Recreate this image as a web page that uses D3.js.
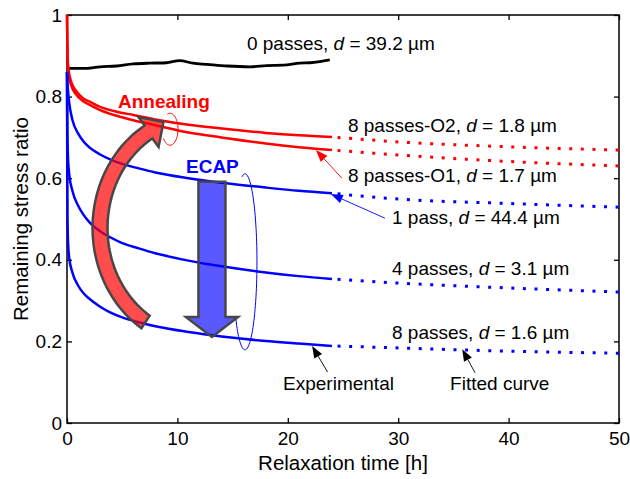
<!DOCTYPE html>
<html>
<head>
<meta charset="utf-8">
<script src="https://cdn.jsdelivr.net/npm/d3@7"></script>
<style>
  body { margin: 0; background: #fff; }
  text { font-family: "Liberation Sans", Arial, Helvetica, sans-serif; }
</style>
</head>
<body>
<svg id="chart" width="630" height="479"></svg>
<script>
// measured curves, [time h, remaining stress ratio]
const exp0 = [[0.02,0.869],[1.5,0.869],[3,0.873],[4.5,0.875],[6,0.880],[7.5,0.882],[9,0.883],[10.2,0.888],
  [11.4,0.882],[12.7,0.879],[14.5,0.875],[16.6,0.873],[18.1,0.876],[19.6,0.877],[21.1,0.882],[22,0.883],[22.9,0.886],[23.8,0.890]];
const expO2 = [[0,1],[0.05,0.90],[0.15,0.865],[0.4,0.835],[0.8,0.815],[1.5,0.795],[2.1,0.787],[3,0.775],[4.5,0.763],
  [6,0.755],[8,0.744],[11,0.731],[14,0.722],[18,0.711],[21,0.705],[24,0.701]];
const expO1 = [[0,1],[0.05,0.89],[0.15,0.855],[0.4,0.826],[0.8,0.806],[1.5,0.788],[2.1,0.779],[3,0.767],[4.5,0.753],
  [6,0.742],[8,0.730],[11,0.712],[14,0.700],[18,0.685],[21,0.676],[24,0.669]];
const exp1 = [[0,0.86],[0.05,0.83],[0.1,0.812],[0.2,0.785],[0.5,0.742],[1,0.71],[1.5,0.69],[2,0.676],[3,0.658],
  [4,0.645],[5,0.635],[6.5,0.624],[8,0.614],[11,0.600],[14,0.589],[18,0.577],[21,0.569],[24,0.563]];
const exp4 = [[0,0.86],[0.03,0.72],[0.1,0.645],[0.2,0.61],[0.5,0.568],[1,0.533],[1.5,0.51],[2,0.493],[3,0.470],
  [4,0.454],[5,0.441],[6.5,0.428],[8,0.416],[11,0.398],[14,0.384],[18,0.369],[21,0.360],[24,0.353]];
const exp8 = [[0,0.86],[0.02,0.66],[0.05,0.50],[0.1,0.44],[0.2,0.405],[0.5,0.368],[1,0.337],[1.5,0.318],[2,0.305],
  [3,0.285],[4,0.27],[5,0.259],[6.5,0.247],[8,0.237],[11,0.223],[14,0.212],[18,0.201],[21,0.195],[24,0.189]];

// fitted extrapolations
const fitO2 = [[24,0.701],[30,0.689],[40,0.677],[50,0.669]];
const fitO1 = [[24,0.669],[30,0.657],[40,0.641],[50,0.630]];
const fit1 = [[24,0.563],[30,0.549],[40,0.538],[50,0.529]];
const fit4 = [[24,0.353],[30,0.343],[40,0.331],[50,0.321]];
const fit8 = [[24,0.189],[30,0.184],[40,0.176],[50,0.171]];

const labelNames = ["0 passes", "8 passes-O2", "8 passes-O1", "1 pass", "4 passes", "8 passes"];
const grainSizes = ["39.2", "1.8", "1.7", "44.4", "3.1", "1.6"];

const xTicks = [0, 10, 20, 30, 40, 50];
const yTicks = [0, 0.2, 0.4, 0.6, 0.8, 1];

const svg = d3.select("#chart");
const x = d3.scaleLinear().domain([0, 50]).range([67, 619]);
const y = d3.scaleLinear().domain([0, 1]).range([423, 15]);

// axes, ticks pointing inwards on every side
svg.append("g").attr("transform", "translate(0,423)")
  .call(d3.axisBottom(x).tickValues(xTicks).tickSizeInner(-5).tickSizeOuter(0).tickPadding(9));
svg.append("g").attr("transform", "translate(0,15)")
  .call(d3.axisTop(x).tickValues(xTicks).tickSizeInner(-5).tickSizeOuter(0).tickFormat(""));
svg.append("g").attr("transform", "translate(67,0)")
  .call(d3.axisLeft(y).tickValues(yTicks).tickSizeInner(-5).tickSizeOuter(0).tickPadding(5)
    .tickFormat(d => (d === 0 || d === 1) ? d : d.toFixed(1)));
svg.append("g").attr("transform", "translate(619,0)")
  .call(d3.axisRight(y).tickValues(yTicks).tickSizeInner(-5).tickSizeOuter(0).tickFormat(""));
svg.selectAll(".domain").remove();
svg.selectAll(".tick line").attr("stroke", "#000").attr("stroke-width", 1.3);
svg.selectAll(".tick text").attr("font-size", 19).attr("fill", "#000")
  .style("font-family", "'Liberation Sans', Arial, sans-serif");
svg.append("rect").attr("x", 67).attr("y", 15).attr("width", 552).attr("height", 408)
  .attr("fill", "none").attr("stroke", "#000").attr("stroke-width", 1.5);

svg.append("text").attr("x", 343).attr("y", 470).attr("text-anchor", "middle")
  .attr("font-size", 20.5).text("Relaxation time [h]");
svg.append("text").attr("transform", "translate(28,219) rotate(-90)").attr("text-anchor", "middle")
  .attr("font-size", 20.5).text("Remaining stress ratio");

// curves
const line = d3.line().x(d => x(d[0])).y(d => y(d[1])).curve(d3.curveMonotoneX);
const curves = svg.append("g").attr("fill", "none");
[[exp0, "#000", 2.8], [expO2, "#ff0000", 2.5], [expO1, "#ff0000", 2.5],
 [exp1, "#0000ff", 2.5], [exp4, "#0000ff", 2.5], [exp8, "#0000ff", 2.5]].forEach(c => {
  curves.append("path").attr("d", line(c[0])).attr("stroke", c[1]).attr("stroke-width", c[2])
    .attr("stroke-linejoin", "round");
});
[[fitO2, "#ff0000"], [fitO1, "#ff0000"], [fit1, "#0000ff"], [fit4, "#0000ff"], [fit8, "#0000ff"]].forEach(c => {
  curves.append("path").attr("d", line(c[0])).attr("stroke", c[1]).attr("stroke-width", 3)
    .attr("stroke-dasharray", "3,8.6").attr("stroke-dashoffset", 6);
});

// helper for sampling an ellipse arc
function ellipsePts(cx, cy, rx, ry, a0, a1, n) {
  return d3.range(n + 1).map(i => {
    const a = (a0 + (a1 - a0) * i / n) * Math.PI / 180;
    return [cx + rx * Math.cos(a), cy + ry * Math.sin(a)];
  });
}
const plain = d3.line();

// small loops round groups of curves
svg.append("path").attr("d", plain(ellipsePts(x(9.33), y(0.72), 8, 16, -110, 145, 60)))
  .attr("fill", "none").attr("stroke", "#ff0000").attr("stroke-width", 1);
svg.append("path").attr("d", plain(ellipsePts(x(16.12), y(0.395), 12, 88, -105, 140, 80)))
  .attr("fill", "none").attr("stroke", "#0000ff").attr("stroke-width", 1);

// big curved annealing arrow
(function() {
  const cx = x(12.05), cy = y(0.478), rx = 100, ry = 112, w = 7.5;
  const a0 = 123, a1 = 239;
  const outer = ellipsePts(cx, cy, rx + w, ry + w, a0, a1, 60);
  const inner = ellipsePts(cx, cy, rx - w, ry - w, a0, a1, 60).reverse();
  const a = a1 * Math.PI / 180;
  const c = [cx + rx * Math.cos(a), cy + ry * Math.sin(a)];
  let tx = -rx * Math.sin(a), ty = ry * Math.cos(a);
  const tl = Math.hypot(tx, ty); tx /= tl; ty /= tl;
  const nx = -ty, ny = tx;
  const head = [
    [c[0] - nx * 18, c[1] - ny * 18],
    [c[0] + tx * 18, c[1] + ty * 18],
    [c[0] + nx * 18, c[1] + ny * 18]
  ];
  const oSide = (outer[60][0] - c[0]) * nx + (outer[60][1] - c[1]) * ny > 0 ? 1 : -1;
  const h = oSide > 0 ? [head[2], head[1], head[0]] : head;
  svg.append("path").attr("d", plain(outer.concat(h, inner)) + "Z")
    .attr("fill", "#ff0000").attr("fill-opacity", 0.7)
    .attr("stroke", "#474747").attr("stroke-width", 2.5).attr("stroke-linejoin", "miter");
})();

// ECAP down arrow
(function() {
  const cx = x(13.13), top = y(0.591), hb = y(0.26), tip = y(0.211);
  const poly = [[cx - 13.5, top], [cx + 13.5, top], [cx + 13.5, hb], [cx + 26, hb], [cx, tip],
    [cx - 26, hb], [cx - 13.5, hb]];
  svg.append("path").attr("d", plain(poly) + "Z")
    .attr("fill", "#0000ff").attr("fill-opacity", 0.65)
    .attr("stroke", "#474747").attr("stroke-width", 2.5);
})();

svg.append("text").attr("x", x(4.62)).attr("y", y(0.772)).attr("font-size", 19)
  .attr("font-weight", "bold").attr("fill", "#ff0000").text("Annealing");
svg.append("text").attr("x", x(10.78)).attr("y", y(0.613)).attr("font-size", 19)
  .attr("font-weight", "bold").attr("fill", "#0000ff").text("ECAP");

// curve labels
const labelAt = [[16.3, 0.914], [25.45, 0.713], [25.45, 0.591], [29.44, 0.488], [29.44, 0.363], [29.44, 0.206]];
labelNames.forEach((name, i) => {
  const t = svg.append("text").attr("x", x(labelAt[i][0])).attr("y", y(labelAt[i][1])).attr("font-size", 19);
  t.append("tspan").text(name + ", ");
  t.append("tspan").attr("font-style", "italic").text("d");
  t.append("tspan").text(" = " + grainSizes[i] + " \u00b5m");
});
svg.append("text").attr("x", x(19.57)).attr("y", y(0.081)).attr("font-size", 19).text("Experimental");
svg.append("text").attr("x", x(34.7)).attr("y", y(0.081)).attr("font-size", 19).text("Fitted curve");

// thin pointer arrows
function pointer(t1, v1, t2, v2, color) {
  const x1 = x(t1), y1 = y(v1), x2 = x(t2), y2 = y(v2);
  let dx = x2 - x1, dy = y2 - y1;
  const l = Math.hypot(dx, dy); dx /= l; dy /= l;
  const bx = x2 - dx * 12, by = y2 - dy * 12;
  svg.append("line").attr("x1", x1).attr("y1", y1).attr("x2", bx).attr("y2", by)
    .attr("stroke", color).attr("stroke-width", 0.9);
  svg.append("path").attr("d", plain([[x2, y2], [bx - dy * 4.5, by + dx * 4.5], [bx + dy * 4.5, by - dx * 4.5]]) + "Z")
    .attr("fill", color);
}
pointer(24.9, 0.600, 22.55, 0.669, "#ff0000");
pointer(28.8, 0.502, 23.9, 0.561, "#0000ff");
pointer(23.6, 0.125, 22.2, 0.189, "#000");
pointer(36.96, 0.123, 35.8, 0.181, "#000");
</script>
</body>
</html>
